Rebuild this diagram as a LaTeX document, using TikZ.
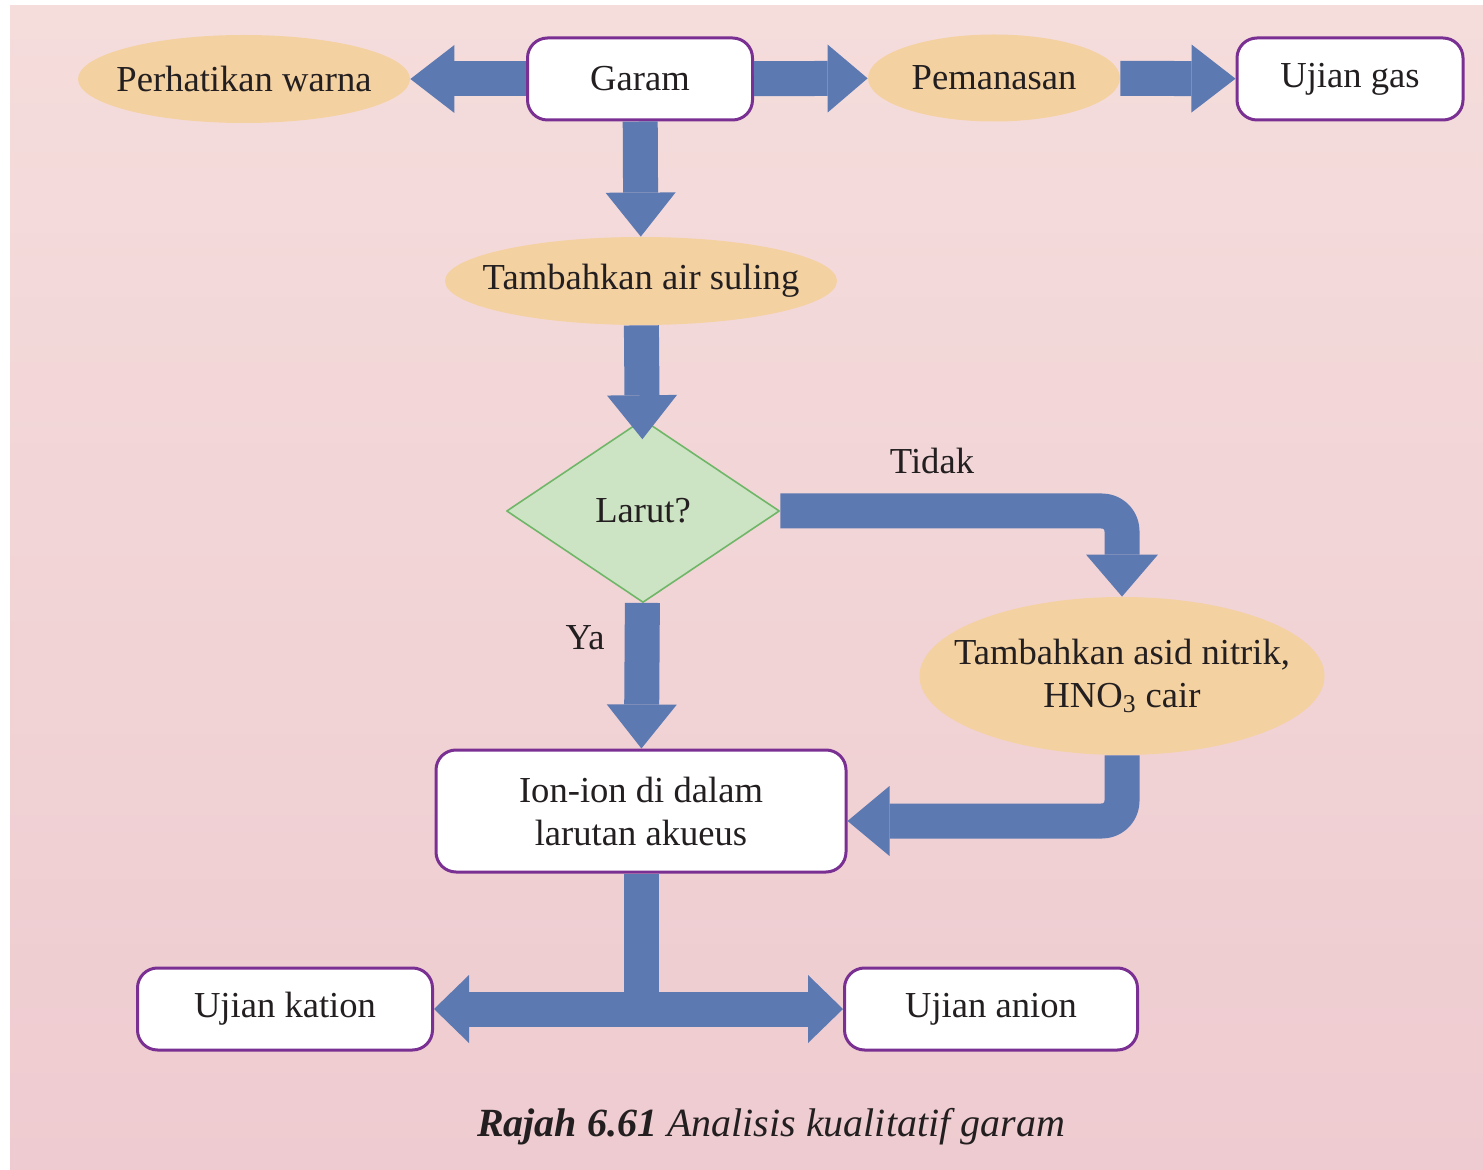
\documentclass[tikz,border=0pt]{standalone}
\usepackage{fontspec}
\setmainfont{Liberation Serif}
\usetikzlibrary{shapes.geometric,arrows.meta}

\definecolor{anakpanah}{RGB}{92,121,178}
\definecolor{ungu}{RGB}{122,48,146}
\definecolor{oren}{RGB}{244,209,161}
\definecolor{hijau}{RGB}{205,228,196}
\definecolor{hijaugaris}{RGB}{112,182,104}
\definecolor{latarA}{RGB}{245,221,220}
\definecolor{latarB}{RGB}{238,203,208}
\definecolor{teks}{RGB}{35,31,32}

\begin{document}
\begin{tikzpicture}[x=0.5pt, y=-0.5pt, line join=round,
    font=\fontsize{18.3}{21.5}\selectfont, text=teks,
    kotak/.style={draw=ungu, line width=1.5pt, fill=white, rounded corners=10pt,
        align=center, inner sep=0pt},
    bujur/.style={ellipse, fill=oren, align=center, inner ysep=0pt, inner xsep=-20pt},
    aliran/.style={draw=anakpanah, line width=17.5pt,
        -{Triangle[width=35pt, length=22pt, line width=0pt]}},
    batang/.style={draw=anakpanah, line width=17.5pt}]
    % Latar
    \useasboundingbox (0,0) rectangle (1483,1170);
    \fill[white] (0,0) rectangle (1483,1170);
    \shade[top color=latarA, bottom color=latarB] (10,6) rectangle (1483,1170);

    % Baris atas
    \node[kotak, minimum width=112.5pt, minimum height=41pt] (garam) at (640,79) {Garam};
    \node[bujur, minimum width=166pt, minimum height=44pt] (warna) at (244,79) {Perhatikan warna};
    \node[bujur, minimum width=126pt, minimum height=43.5pt] (panas) at (994,78) {Pemanasan};
    \node[kotak, minimum width=113pt, minimum height=41pt] (gas) at (1350,79) {Ujian gas};

    % Air suling dan keputusan
    \node[bujur, minimum width=196pt, minimum height=44pt] (air) at (641,281) {Tambahkan air suling};
    \node[diamond, draw=hijaugaris, line width=0.8pt, fill=hijau, inner sep=0pt,
        minimum width=136.5pt, minimum height=91.5pt] (larut) at (643,511) {Larut?};
    \node[bujur, minimum width=202.5pt, minimum height=79pt] (asid) at (1122,676)
        {Tambahkan asid nitrik,\\HNO\textsubscript{3} cair};

    % Baris bawah
    \node[kotak, minimum width=205pt, minimum height=61pt] (ion) at (641,811)
        {Ion-ion di dalam\\larutan akueus};
    \node[kotak, minimum width=147.5pt, minimum height=41pt] (kation) at (285,1009) {Ujian kation};
    \node[kotak, minimum width=146.5pt, minimum height=41pt] (anion) at (991,1009) {Ujian anion};

    % Anak panah
    \draw[aliran, -{Triangle[width=34pt, length=22pt, line width=0pt]}] (garam) -- (warna);
    \draw[aliran, -{Triangle[width=34pt, length=20pt, line width=0pt]}] (garam) -- (panas);
    \draw[aliran, -{Triangle[width=34pt, length=22pt, line width=0pt]}] (panas) -- (gas);
    \draw[aliran] (garam) -- (air);
    \draw[aliran, shorten >=-10pt] (air) -- (larut);
    \draw[aliran] (larut) -- (ion);
    \draw[aliran, rounded corners=10pt, -{Triangle[width=36pt, length=21pt, line width=0pt]}]
        (larut.east) -| (asid);
    \draw[aliran, rounded corners=10pt, -{Triangle[width=35pt, length=21pt, line width=0pt]}]
        (asid) |- ([yshift=-5pt]ion.east);
    \draw[batang] (ion) -- (ion |- kation);
    \draw[batang, {Triangle[width=34pt, length=17.5pt, line width=0pt]}-{Triangle[width=34pt, length=17.5pt, line width=0pt]}]
        (kation) -- (anion);

    % Label cabang
    \node (tidak) at (932,461) {Tidak};
    \node (ya) at (585,638) {Ya};

    % Tajuk rajah
    \node[font=\fontsize{20}{24}\selectfont] (tajuk) at (771,1127)
        {\textbf{\textit{Rajah 6.61}} \textit{Analisis kualitatif garam}};
\end{tikzpicture}
\end{document}
